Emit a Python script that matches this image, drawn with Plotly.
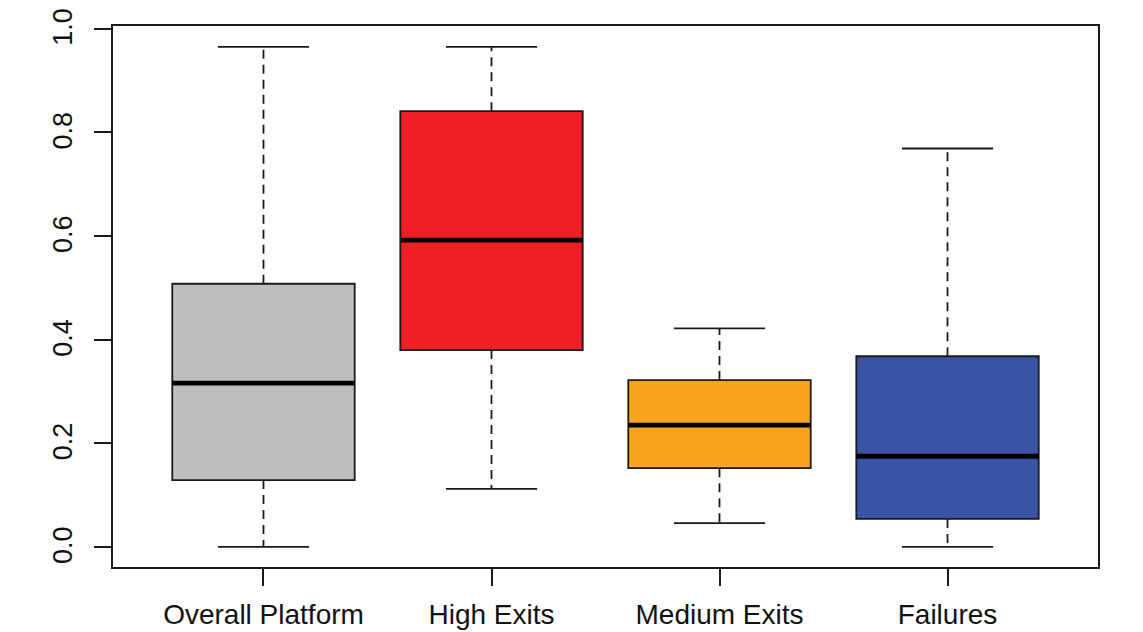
import plotly.graph_objects as go

categories = ["Overall Platform", "High Exits", "Medium Exits", "Failures"]
positions = [1, 2, 3, 4]
lower_whisker = [0.000, 0.112, 0.046, 0.000]
q1_values = [0.129, 0.380, 0.152, 0.054]
medians = [0.316, 0.592, 0.235, 0.175]
q3_values = [0.508, 0.841, 0.322, 0.368]
upper_whisker = [0.965, 0.965, 0.422, 0.769]
colors = ["#BEBEBE", "#EE1F25", "#F8A51D", "#3A53A4"]
y_ticks = [0.0, 0.2, 0.4, 0.6, 0.8, 1.0]
y_tick_labels = ["0.0", "0.2", "0.4", "0.6", "0.8", "1.0"]

BOX_W = 0.8
CAP_W = 0.4

fig = go.Figure()

for i, cat in enumerate(categories):
    x = positions[i]
    # dashed whiskers
    fig.add_trace(go.Scatter(
        x=[x, x, None, x, x],
        y=[q3_values[i], upper_whisker[i], None, q1_values[i], lower_whisker[i]],
        mode="lines", line=dict(color="#1a1a1a", width=1.8, dash="9px,6px"),
        hoverinfo="skip", showlegend=False))
    # caps
    fig.add_trace(go.Scatter(
        x=[x - CAP_W / 2, x + CAP_W / 2, None, x - CAP_W / 2, x + CAP_W / 2],
        y=[upper_whisker[i], upper_whisker[i], None, lower_whisker[i], lower_whisker[i]],
        mode="lines", line=dict(color="#1a1a1a", width=1.8),
        hoverinfo="skip", showlegend=False))
    # box
    fig.add_trace(go.Box(
        x=[x], q1=[q1_values[i]], median=[medians[i]], q3=[q3_values[i]],
        lowerfence=[q1_values[i]], upperfence=[q3_values[i]],
        width=BOX_W, fillcolor=colors[i],
        line=dict(color="#1a1a1a", width=1.8),
        whiskerwidth=0, name=cat, showlegend=False, boxpoints=False))
    # thick median
    fig.add_trace(go.Scatter(
        x=[x - BOX_W / 2, x + BOX_W / 2], y=[medians[i], medians[i]],
        mode="lines", line=dict(color="#000000", width=4.8),
        hoverinfo="skip", showlegend=False))

# y tick labels, rotated like R's default (parallel to the axis)
for v, lab in zip(y_ticks, y_tick_labels):
    fig.add_annotation(
        x=0, xref="paper", y=v, yref="y", text=lab, showarrow=False,
        textangle=-90, xanchor="center", yanchor="middle",
        xshift=-50, yshift=2, font=dict(size=27, color="#111111"))

fig.update_layout(
    width=1143, height=632,
    margin=dict(l=105, r=53, t=18, b=73),
    paper_bgcolor="white", plot_bgcolor="white",
    font=dict(family="Liberation Sans, Arial, sans-serif", color="#111111"),
    showlegend=False,
)
fig.update_xaxes(
    range=[0.34, 4.66], tickmode="array", tickvals=positions, ticktext=categories,
    ticks="outside", ticklen=17, tickwidth=1.8, tickcolor="#1a1a1a",
    tickfont=dict(size=28), showgrid=False, zeroline=False,
    showline=True, linecolor="#1a1a1a", linewidth=2, mirror=True,
    ticklabelstandoff=4, automargin=False, ticklabeloverflow="allow",
)
fig.update_yaxes(
    range=[-0.0387, 1.0054], tickmode="array", tickvals=y_ticks,
    showticklabels=False,
    ticks="outside", ticklen=17, tickwidth=1.8, tickcolor="#1a1a1a",
    showgrid=False, zeroline=False,
    showline=True, linecolor="#1a1a1a", linewidth=2, mirror=True,
    automargin=False,
)

fig.write_html("out.html")
